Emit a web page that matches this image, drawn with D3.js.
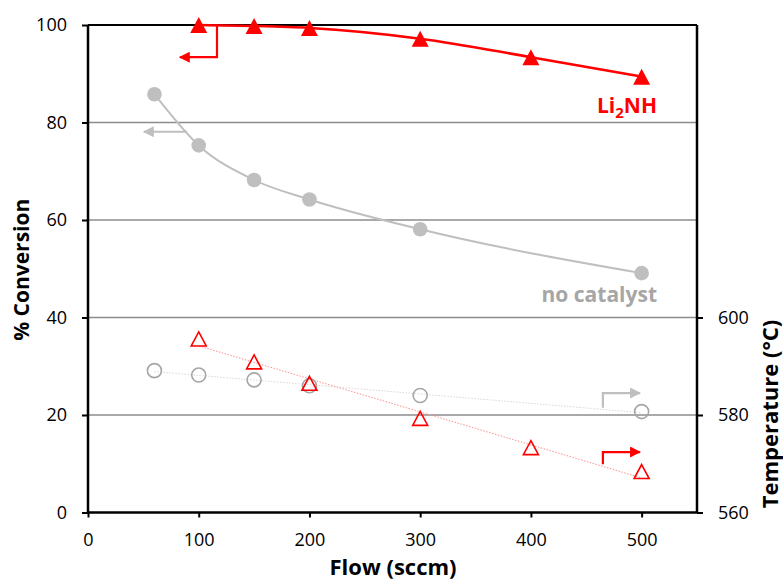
<!DOCTYPE html>
<html>
<head>
<meta charset="utf-8">
<script src="https://cdn.jsdelivr.net/npm/d3@7"></script>
<style>
  html, body { margin: 0; padding: 0; background: #fff; }
  svg { display: block; }
  text { font-family: "Open Sans", "Liberation Sans", sans-serif; }
</style>
</head>
<body>
<svg id="chart" width="783" height="581"></svg>
<script>
// Flow rates (sccm)
const flowLi2NH = [100, 150, 200, 300, 400, 500];
const flowBlank = [60, 100, 150, 200, 300, 500];

// % conversion (left axis)
const convLi2NH = [100, 99.8, 99.4, 97.2, 93.4, 89.4];
const convBlank = [85.8, 75.3, 68.2, 64.2, 58.1, 49.1];

// Temperature in °C (right axis)
const tempLi2NH = [595.6, 590.9, 586.5, 579.3, 573.3, 568.4];
const tempBlank = [589.1, 588.2, 587.2, 586.0, 584.0, 580.7];

// Axis ticks
const xTicks = [0, 100, 200, 300, 400, 500];
const yTicks = [0, 20, 40, 60, 80, 100];
const yRightTicks = [560, 580, 600];

const RED = "#ff0000";
const GREY = "#bfbfbf";
const GREY_DARK = "#a6a6a6";

const svg = d3.select("#chart");

const x = d3.scaleLinear().domain([0, 550]).range([88, 697]);
const y = d3.scaleLinear().domain([0, 100]).range([512.5, 25]);
const yR = d3.scaleLinear().domain([560, 660]).range([512.5, 25]);

// Horizontal gridlines
svg.append("g").selectAll("line")
  .data(yTicks.filter(d => d > 0 && d < 100))
  .join("line")
  .attr("x1", x(0)).attr("x2", x(550))
  .attr("y1", d => y(d)).attr("y2", d => y(d))
  .attr("stroke", "#8c8c8c").attr("stroke-width", 1.5);

// Axes
const fontTick = "18px";
const gx = svg.append("g").attr("transform", `translate(0,${y(0)})`)
  .call(d3.axisBottom(x).tickValues(xTicks).tickSize(5).tickPadding(16));
const gy = svg.append("g").attr("transform", `translate(${x(0)},0)`)
  .call(d3.axisLeft(y).tickValues(yTicks).tickSize(6).tickPadding(15));
const gr = svg.append("g").attr("transform", `translate(${x(550)},0)`)
  .call(d3.axisRight(yR).tickValues(yRightTicks).tickSize(6).tickPadding(15));

[gx, gy, gr].forEach(g => {
  g.select(".domain").attr("stroke", "#000").attr("stroke-width", 2.5);
  g.selectAll(".tick line").attr("stroke", "#000").attr("stroke-width", 2);
  g.selectAll(".tick text").attr("fill", "#000")
    .style("font-size", fontTick)
    .style("font-family", '"Open Sans", sans-serif');
});
gx.select(".domain").attr("d", `M${x(0)},0H${x(550)}`);
gy.select(".domain").attr("d", `M0,${y(0)}V${y(100)}`);
gr.select(".domain").attr("d", `M0,${y(0)}V${y(100)}`);

// Top border
svg.append("line")
  .attr("x1", x(0)).attr("x2", x(550))
  .attr("y1", y(100)).attr("y2", y(100))
  .attr("stroke", "#000").attr("stroke-width", 2);

// Axis titles
svg.append("text")
  .attr("x", 393).attr("y", 575)
  .attr("text-anchor", "middle")
  .style("font-size", "22px").style("font-weight", "bold")
  .text("Flow (sccm)");

svg.append("text")
  .attr("transform", `translate(29,${y(50) + 1}) rotate(-90)`)
  .attr("text-anchor", "middle")
  .style("font-size", "21px").style("font-weight", "bold")
  .text("% Conversion");

svg.append("text")
  .attr("transform", `translate(778,${yR(580) - 1}) rotate(-90)`)
  .attr("text-anchor", "middle")
  .style("font-size", "22px").style("font-weight", "bold")
  .text("Temperature (°C)");

// Linear least-squares fit used for the temperature trend lines
function linFit(xs, ys) {
  const mx = d3.mean(xs), my = d3.mean(ys);
  const sxy = d3.sum(xs, (v, i) => (v - mx) * (ys[i] - my));
  const sxx = d3.sum(xs, v => (v - mx) * (v - mx));
  const b = sxy / sxx, a = my - b * mx;
  return v => a + b * v;
}

const fitRed = linFit(flowLi2NH, tempLi2NH);
const fitGrey = linFit(flowBlank, tempBlank);

// Temperature trend lines (dotted)
svg.append("line")
  .attr("x1", x(d3.min(flowBlank))).attr("x2", x(d3.max(flowBlank)))
  .attr("y1", yR(fitGrey(d3.min(flowBlank)))).attr("y2", yR(fitGrey(d3.max(flowBlank))))
  .attr("stroke", "#d9d9d9").attr("stroke-width", 1).attr("stroke-dasharray", "1.5,1.5");
svg.append("line")
  .attr("x1", x(d3.min(flowLi2NH))).attr("x2", x(d3.max(flowLi2NH)))
  .attr("y1", yR(fitRed(d3.min(flowLi2NH)))).attr("y2", yR(fitRed(d3.max(flowLi2NH))))
  .attr("stroke", "#ff9090").attr("stroke-width", 1).attr("stroke-dasharray", "1.5,1.5");

// Conversion curves
const convLine = d3.line().x(d => x(d[0])).y(d => y(d[1])).curve(d3.curveMonotoneX);
svg.append("path")
  .datum(d3.zip(flowBlank, convBlank))
  .attr("d", convLine)
  .attr("fill", "none").attr("stroke", GREY).attr("stroke-width", 2);
svg.append("path")
  .datum(d3.zip(flowLi2NH, convLi2NH))
  .attr("d", convLine)
  .attr("fill", "none").attr("stroke", RED).attr("stroke-width", 2.5);

// Triangle marker centred on its bounding box
const tri = (w, h) => `M0,${-h / 2}L${w / 2},${h / 2}L${-w / 2},${h / 2}Z`;

// Temperature markers (open)
svg.append("g").selectAll("circle")
  .data(d3.zip(flowBlank, tempBlank))
  .join("circle")
  .attr("cx", d => x(d[0])).attr("cy", d => yR(d[1])).attr("r", 7)
  .attr("fill", "none").attr("stroke", GREY_DARK).attr("stroke-width", 1.6);
svg.append("g").selectAll("path")
  .data(d3.zip(flowLi2NH, tempLi2NH))
  .join("path")
  .attr("transform", d => `translate(${x(d[0])},${yR(d[1])})`)
  .attr("d", tri(15, 14))
  .attr("fill", "none").attr("stroke", RED).attr("stroke-width", 1.6);

// Conversion markers (filled)
svg.append("g").selectAll("circle")
  .data(d3.zip(flowBlank, convBlank))
  .join("circle")
  .attr("cx", d => x(d[0])).attr("cy", d => y(d[1])).attr("r", 7.3)
  .attr("fill", GREY);
svg.append("g").selectAll("path")
  .data(d3.zip(flowLi2NH, convLi2NH))
  .join("path")
  .attr("transform", d => `translate(${x(d[0])},${y(d[1])})`)
  .attr("d", tri(17, 16))
  .attr("fill", RED);

// Arrows pointing to the axis each series belongs to
const defs = svg.append("defs");
function marker(id, color) {
  defs.append("marker")
    .attr("id", id).attr("viewBox", "0 0 10 10")
    .attr("refX", 9).attr("refY", 5)
    .attr("markerWidth", 14).attr("markerHeight", 11)
    .attr("markerUnits", "userSpaceOnUse")
    .attr("orient", "auto")
    .append("path").attr("d", "M0,0L10,5L0,10Z").attr("fill", color);
}
marker("headRed", RED);
marker("headGrey", GREY);

const arrowLine = d3.line().x(d => x(d[0])).y(d => d[1]);
const arrows = [
  { pts: [[116.5, y(100)], [116.5, y(93.4)], [83, y(93.4)]], color: RED, head: "headRed" },
  { pts: [[89.5, y(78.1)], [50.5, y(78.1)]], color: GREY, head: "headGrey" },
  { pts: [[465, yR(581.5)], [465, yR(584.5)], [498.5, yR(584.5)]], color: GREY, head: "headGrey" },
  { pts: [[465, yR(569.9)], [465, yR(572.4)], [498.5, yR(572.4)]], color: RED, head: "headRed" }
];
svg.append("g").selectAll("path")
  .data(arrows)
  .join("path")
  .attr("d", d => arrowLine(d.pts))
  .attr("fill", "none")
  .attr("stroke", d => d.color).attr("stroke-width", 2.2)
  .attr("marker-end", d => `url(#${d.head})`);

// Series labels
const li = svg.append("text")
  .attr("x", 657).attr("y", 113)
  .attr("text-anchor", "end")
  .attr("fill", RED)
  .style("font-size", "21px").style("font-weight", "bold");
li.append("tspan").text("Li");
li.append("tspan").attr("dy", 5).style("font-size", "15px").text("2");
li.append("tspan").attr("dy", -5).text("NH");

svg.append("text")
  .attr("x", 657).attr("y", 302)
  .attr("text-anchor", "end")
  .attr("fill", GREY_DARK)
  .style("font-size", "21px").style("font-weight", "bold")
  .text("no catalyst");
</script>
</body>
</html>
